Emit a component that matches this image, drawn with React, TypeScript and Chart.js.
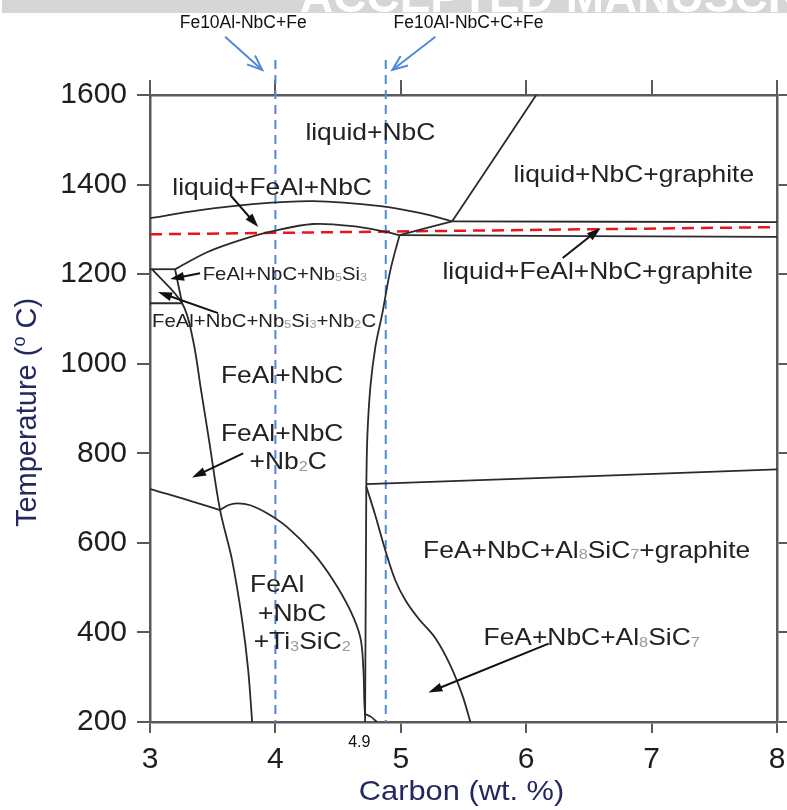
import React, { useEffect, useRef } from "react";
import { Chart, registerables } from "chart.js";

Chart.register(...registerables);

const FONT = '"Liberation Sans", Arial, Helvetica, sans-serif';

// axis ranges / ticks
const xRange = [3, 8];
const yRange = [200, 1600];
const xStep = 1;
const yStep = 200;

// phase boundaries: [carbon wt.%, temperature °C]
const liquidusNbC = [[3.0, 1325], [3.4, 1343], [3.8, 1356], [4.3, 1363], [4.84, 1352], [5.16, 1336], [5.41, 1318]];
const liquidusGraphite = [[5.41, 1318], [6.08, 1600]];
const eutecticUpper = [[5.41, 1318], [8.0, 1316]];
const tieLine = [[5.41, 1318], [4.99, 1287]];
const eutecticLower = [[4.99, 1287], [8.0, 1283]];
const solidusFeAl = [[4.99, 1287], [4.89, 1294], [4.62, 1307], [4.3, 1312], [3.98, 1296], [3.72, 1276], [3.455, 1249], [3.2, 1211]];
const nb5si3Top = [[3.0, 1211], [3.2, 1211]];
const nb5si3Side = [[3.2, 1211], [3.256, 1135]];
const nb2cTop = [[3.0, 1135], [3.256, 1135]];
const nb2cSolvus = [[3.016, 1211], [3.256, 1135], [3.343, 1053], [3.407, 941], [3.471, 829], [3.559, 673], [3.655, 561], [3.735, 427], [3.783, 316], [3.815, 199]];
const ti3sic2Left = [[3.0, 720], [3.264, 699], [3.559, 673]];
const ti3sic2Dome = [[3.559, 673], [3.623, 684], [3.695, 688], [3.8, 684], [3.934, 666], [4.094, 635], [4.302, 577], [4.462, 516], [4.597, 449], [4.677, 389], [4.701, 322], [4.709, 248], [4.715, 215]];
const graphiteBoundaryCurve = [[4.99, 1287], [4.917, 1209], [4.853, 1113], [4.797, 1037], [4.757, 947], [4.733, 836], [4.725, 731]];
const graphiteBoundaryStraight = [[4.725, 731], [4.715, 199]];
const bottomStub = [[4.715, 218], [4.76, 212], [4.81, 200]];
const al8sic7Top = [[4.725, 731], [8.0, 764]];
const al8sic7Curve = [[4.725, 726], [4.797, 661], [4.877, 583], [4.957, 516], [5.037, 472], [5.141, 431], [5.276, 387], [5.396, 326], [5.492, 259], [5.556, 199]];

const boundaryLines = [
  liquidusNbC, liquidusGraphite, eutecticUpper, tieLine, eutecticLower, solidusFeAl,
  nb5si3Top, nb5si3Side, nb2cTop, nb2cSolvus, ti3sic2Left, ti3sic2Dome,
  graphiteBoundaryCurve, graphiteBoundaryStraight, bottomStub, al8sic7Top, al8sic7Curve,
];

// overlays
const redIsotherm = [[3.0, 1289], [8.0, 1305]];
const alloyA = [[4.0, 1678], [4.0, 200]];
const alloyB = [[4.88, 1678], [4.88, 200]];

// region labels ("_" marks the next char as subscript)
const regionLabels = [
  "liquid+NbC", "liquid+FeAl+NbC", "liquid+NbC+graphite", "liquid+FeAl+NbC+graphite",
  "FeAl+NbC+Nb_5Si_3", "FeAl+NbC+Nb_5Si_3+Nb_2C", "FeAl+NbC", "FeAl+NbC", "+Nb_2C",
  "FeA+NbC+Al_8SiC_7+graphite", "FeAl", "+NbC", "+Ti_3SiC_2", "FeA+NbC+Al_8SiC_7",
];
const regionLabelAnchors = [
  [4.757, 1519], [3.974, 1397], [6.858, 1426], [6.57, 1209],
  [3.42, 1202], [3.016, 1097], [4.054, 977], [4.054, 847], [4.102, 784],
  [6.482, 586], [4.014, 510], [4.134, 445], [4.214, 382], [6.522, 391],
];
const regionLabelSmall = [false, false, false, false, true, true, false, false, false, false, false, false, false, false];

const blackArrows = [
  [[3.639, 1377], [3.863, 1305]],
  [[3.399, 1202], [3.16, 1189]],
  [[3.543, 1113], [3.064, 1160]],
  [[3.743, 800], [3.335, 746]],
  [[6.291, 1236], [6.594, 1303]],
  [[6.179, 375], [5.22, 266]],
];

const alloyLabels = ["Fe10Al-NbC+Fe", "Fe10Al-NbC+C+Fe"];
const alloyLabelAnchors = [[3.743, 1761], [5.54, 1761]];
const blueArrows = [
  [[3.599, 1730], [3.895, 1656]],
  [[5.276, 1730], [4.933, 1656]],
];
const compositionNote = "4.9";
const compositionNoteAnchor = [4.669, 154];

const xTitle = "Carbon (wt. %)";
const yTitleParts = ["Temperature (", "o", " C)"];

const STRETCH = 1.1;

function drawRich(ctx: CanvasRenderingContext2D, text: string, cx: number, cy: number, size: number, align: string, color: string) {
  const segs: { t: string; sub: boolean }[] = [];
  for (let i = 0; i < text.length; i++) {
    if (text[i] === "_" && i + 1 < text.length) {
      segs.push({ t: text[i + 1], sub: true });
      i++;
    } else {
      const last = segs[segs.length - 1];
      if (last && !last.sub) last.t += text[i];
      else segs.push({ t: text[i], sub: false });
    }
  }
  const subSize = size * 0.62;
  let total = 0;
  const widths = segs.map((s) => {
    ctx.font = `${s.sub ? subSize : size}px ${FONT}`;
    const w = ctx.measureText(s.t).width;
    total += w;
    return w;
  });
  ctx.save();
  ctx.translate(cx, cy + size * 0.36);
  ctx.scale(STRETCH, 1);
  ctx.textBaseline = "alphabetic";
  ctx.textAlign = "left";
  let x = align === "center" ? -total / 2 : 0;
  segs.forEach((s, i) => {
    ctx.font = `${s.sub ? subSize : size}px ${FONT}`;
    ctx.fillStyle = s.sub ? "#9a9a9a" : color;
    ctx.fillText(s.t, x, s.sub ? size * 0.06 : 0);
    x += widths[i];
  });
  ctx.restore();
}

function drawArrow(ctx: CanvasRenderingContext2D, x1: number, y1: number, x2: number, y2: number, color: string, filled: boolean) {
  const ang = Math.atan2(y2 - y1, x2 - x1);
  const len = filled ? 14 : 15;
  const half = filled ? 4.5 : 6;
  ctx.save();
  ctx.strokeStyle = color;
  ctx.fillStyle = color;
  ctx.lineWidth = 2;
  ctx.beginPath();
  ctx.moveTo(x1, y1);
  ctx.lineTo(filled ? x2 - Math.cos(ang) * len * 0.7 : x2, filled ? y2 - Math.sin(ang) * len * 0.7 : y2);
  ctx.stroke();
  const bx = x2 - Math.cos(ang) * len;
  const by = y2 - Math.sin(ang) * len;
  const nx = -Math.sin(ang) * half;
  const ny = Math.cos(ang) * half;
  ctx.beginPath();
  if (filled) {
    ctx.moveTo(x2, y2);
    ctx.lineTo(bx + nx, by + ny);
    ctx.lineTo(bx - nx, by - ny);
    ctx.closePath();
    ctx.fill();
  } else {
    ctx.moveTo(bx + nx, by + ny);
    ctx.lineTo(x2, y2);
    ctx.lineTo(bx - nx, by - ny);
    ctx.stroke();
  }
  ctx.restore();
}

const annotationPlugin = {
  id: "phaseAnnotations",
  afterDatasetsDraw(chart: any) {
    const ctx: CanvasRenderingContext2D = chart.ctx;
    const xs = chart.scales.x;
    const ys = chart.scales.y;
    const px = (v: number) => xs.getPixelForValue(v);
    const py = (v: number) => ys.getPixelForValue(v);

    regionLabels.forEach((t, i) => {
      const [x, y] = regionLabelAnchors[i];
      const small = regionLabelSmall[i];
      drawRich(ctx, t, px(x), py(y), small ? 18.5 : 24, small ? "left" : "center", "#222");
    });
    blackArrows.forEach(([a, b]) => drawArrow(ctx, px(a[0]), py(a[1]), px(b[0]), py(b[1]), "#111", true));
    blueArrows.forEach(([a, b]) => drawArrow(ctx, px(a[0]), py(a[1]), px(b[0]), py(b[1]), "#5089d6", false));

    ctx.save();
    ctx.fillStyle = "#111";
    ctx.textAlign = "center";
    ctx.textBaseline = "middle";
    ctx.font = `17.5px ${FONT}`;
    alloyLabels.forEach((t, i) => {
      const [x, y] = alloyLabelAnchors[i];
      ctx.fillText(t, px(x), py(y));
    });
    ctx.font = `16px ${FONT}`;
    ctx.fillText(compositionNote, px(compositionNoteAnchor[0]), py(compositionNoteAnchor[1]));
    ctx.restore();
  },
  afterDraw(chart: any) {
    const ctx: CanvasRenderingContext2D = chart.ctx;
    const area = chart.chartArea;
    // top banner
    ctx.save();
    ctx.fillStyle = "#d6d6d6";
    ctx.fillRect(2, 0, chart.width - 2, 13);
    ctx.beginPath();
    ctx.rect(2, 0, chart.width - 2, 13);
    ctx.clip();
    ctx.fillStyle = "#ffffff";
    ctx.font = `bold 46px ${FONT}`;
    ctx.textBaseline = "alphabetic";
    ctx.textAlign = "left";
    ctx.fillText("ACCEPTED MANUSCRIPT", 300, 12);
    ctx.restore();

    // x title
    ctx.save();
    ctx.fillStyle = "#23285e";
    ctx.font = `28px ${FONT}`;
    ctx.textAlign = "center";
    ctx.textBaseline = "alphabetic";
    ctx.translate((area.left + area.right) / 2 - 2, 800);
    ctx.scale(STRETCH, 1);
    ctx.fillText(xTitle, 0, 0);
    ctx.restore();

    // y title with superscript
    ctx.save();
    const size = 29;
    ctx.fillStyle = "#23285e";
    ctx.textBaseline = "alphabetic";
    ctx.textAlign = "left";
    const fonts = [`${size}px ${FONT}`, `${size * 0.62}px ${FONT}`, `${size}px ${FONT}`];
    let total = 0;
    const ws = yTitleParts.map((p, i) => {
      ctx.font = fonts[i];
      const w = ctx.measureText(p).width;
      total += w;
      return w;
    });
    ctx.translate(36, (area.top + area.bottom) / 2 + 4);
    ctx.rotate(-Math.PI / 2);
    let x = -total / 2;
    yTitleParts.forEach((p, i) => {
      ctx.font = fonts[i];
      ctx.fillText(p, x, i === 1 ? -size * 0.38 : 0);
      x += ws[i];
    });
    ctx.restore();
  },
};

const toPts = (a: number[][]) => a.map(([x, y]) => ({ x, y }));

const noPad = (s: any) => {
  s.paddingLeft = 0;
  s.paddingRight = 0;
  s.paddingTop = 0;
  s.paddingBottom = 0;
};

export default function App() {
  const canvasRef = useRef<HTMLCanvasElement | null>(null);

  useEffect(() => {
    document.body.style.margin = "0";
    const canvas = canvasRef.current;
    if (!canvas) return;

    const datasets: any[] = boundaryLines.map((pts) => ({
      data: toPts(pts),
      showLine: true,
      borderColor: "#2a2a2a",
      borderWidth: 1.8,
      pointRadius: 0,
      tension: 0.35,
      fill: false,
    }));
    datasets.push({
      data: toPts(redIsotherm),
      showLine: true,
      borderColor: "#e8151b",
      borderWidth: 2.5,
      borderDash: [12, 7],
      pointRadius: 0,
      fill: false,
    });
    [alloyA, alloyB].forEach((pts) =>
      datasets.push({
        data: toPts(pts),
        showLine: true,
        borderColor: "#4f8ad6",
        borderWidth: 2,
        borderDash: [9, 6],
        pointRadius: 0,
        fill: false,
        clip: false,
      })
    );

    const axisColor = "#5a5a5a";
    const tickFont = { size: 30, family: FONT };
    const chart = new Chart(canvas, {
      type: "scatter",
      data: { datasets },
      plugins: [annotationPlugin],
      options: {
        responsive: false,
        animation: false,
        devicePixelRatio: 1,
        layout: { padding: 0 },
        plugins: { legend: { display: false }, tooltip: { enabled: false } },
        scales: {
          x: {
            type: "linear",
            position: "bottom",
            min: xRange[0],
            max: xRange[1],
            ticks: { stepSize: xStep, font: tickFont, color: "#1e1e1e", padding: 9, maxRotation: 0, callback: (v: any) => String(v) },
            grid: { drawOnChartArea: false, drawTicks: true, tickLength: 11, color: axisColor, lineWidth: 2 },
            border: { display: true, color: axisColor, width: 2.5 },
            afterFit: (s: any) => { s.height = 88; noPad(s); },
          },
          xTop: {
            type: "linear",
            position: "top",
            min: xRange[0],
            max: xRange[1],
            ticks: { stepSize: xStep, display: false },
            grid: { drawOnChartArea: false, drawTicks: true, tickLength: 15, color: axisColor, lineWidth: 2 },
            border: { display: true, color: axisColor, width: 2.5 },
            afterFit: (s: any) => { s.height = 95; noPad(s); },
          },
          y: {
            type: "linear",
            position: "left",
            min: yRange[0],
            max: yRange[1],
            ticks: { stepSize: yStep, font: tickFont, color: "#1e1e1e", padding: 10, callback: (v: any) => String(v) },
            grid: { drawOnChartArea: false, drawTicks: true, tickLength: 13, color: axisColor, lineWidth: 2 },
            border: { display: true, color: axisColor, width: 2.5 },
            afterFit: (s: any) => { s.width = 150; noPad(s); },
          },
          yRight: {
            type: "linear",
            position: "right",
            min: yRange[0],
            max: yRange[1],
            ticks: { stepSize: yStep, display: false },
            grid: { drawOnChartArea: false, drawTicks: true, tickLength: 10, color: axisColor, lineWidth: 2 },
            border: { display: true, color: axisColor, width: 2.5 },
            afterFit: (s: any) => { s.width = 10; noPad(s); },
          },
        },
      } as any,
    });
    return () => chart.destroy();
  }, []);

  return (
    <div style={{ width: 787, height: 810, background: "#fff" }}>
      <canvas ref={canvasRef} width={787} height={810} style={{ display: "block" }} />
    </div>
  );
}
